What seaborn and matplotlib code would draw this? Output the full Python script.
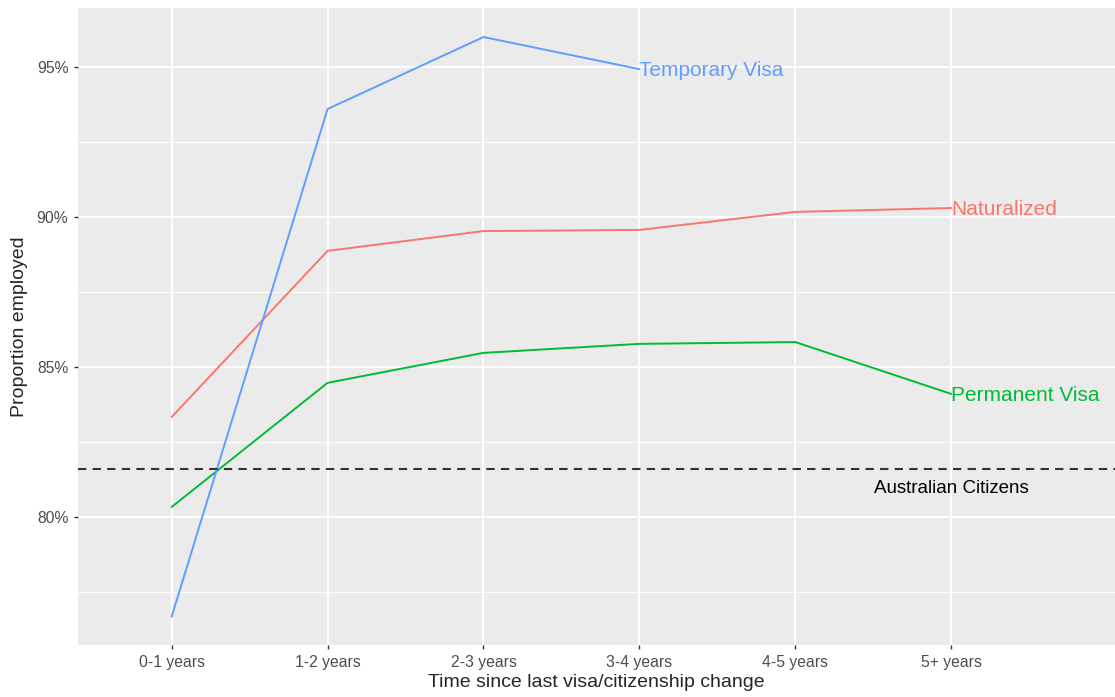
import matplotlib.pyplot as plt
import matplotlib.ticker as mticker
import pandas as pd
import seaborn as sns

periods = ["0-1 years", "1-2 years", "2-3 years", "3-4 years", "4-5 years", "5+ years"]
naturalized = [83.33, 88.87, 89.53, 89.57, 90.17, 90.30]
permanent_visa = [80.33, 84.47, 85.47, 85.77, 85.83, 84.10]
temporary_visa = [76.67, 93.60, 96.00, 94.93]
citizens_rate = 81.6

groups = {
    "Naturalized": naturalized,
    "Permanent Visa": permanent_visa,
    "Temporary Visa": temporary_visa,
}
palette = {"Naturalized": "#F8766D", "Permanent Visa": "#00BA38", "Temporary Visa": "#619CFF"}

rows = []
for name, vals in groups.items():
    for i, v in enumerate(vals):
        rows.append({"group": name, "pos": i, "rate": v})
df = pd.DataFrame(rows)

sns.set_style("darkgrid", {"axes.facecolor": "#EBEBEB", "grid.color": "white"})
plt.rcParams["font.family"] = ["Liberation Sans", "DejaVu Sans"]

fig = plt.figure(figsize=(11.15, 6.97), dpi=100)
ax = fig.add_axes([0.07, 0.0746, 0.93, 0.914])

sns.lineplot(data=df, x="pos", y="rate", hue="group", palette=palette,
             linewidth=1.4, legend=False, ax=ax)

ax.axhline(citizens_rate, color="#333333", linestyle=(0, (4, 3)), linewidth=1.5)

# direct labels at each line's last point
for name, vals in groups.items():
    ax.text(len(vals) - 1, vals[-1] - 0.05, name, color=palette[name], fontsize=15,
            ha="left", va="center")
ax.text(len(periods) - 1, citizens_rate - 0.65, "Australian Citizens",
        color="black", fontsize=13.5, ha="center", va="center")

ax.set_xlim(-0.6, 6.05)
ax.set_ylim(75.73, 96.97)
ax.set_xticks(range(len(periods)))
ax.set_xticklabels(periods)
ax.set_yticks([80, 85, 90, 95])
ax.yaxis.set_major_formatter(mticker.FuncFormatter(lambda v, p: f"{v:.0f}%"))
ax.set_yticks([77.5, 82.5, 87.5, 92.5], minor=True)
ax.grid(True, which="major", color="white", linewidth=1.4)
ax.grid(True, which="minor", axis="y", color="white", linewidth=0.7)
ax.tick_params(axis="both", which="major", bottom=True, left=True, length=3, width=1,
               color="#333333", labelsize=11.3, labelcolor="#4D4D4D", pad=4)
ax.tick_params(axis="both", which="minor", length=0)
for s in ax.spines.values():
    s.set_visible(False)

ax.set_xlabel("Time since last visa/citizenship change", fontsize=14, labelpad=3)
ax.set_ylabel("Proportion employed", fontsize=14, labelpad=6)

fig.savefig("out.png", dpi=100)
